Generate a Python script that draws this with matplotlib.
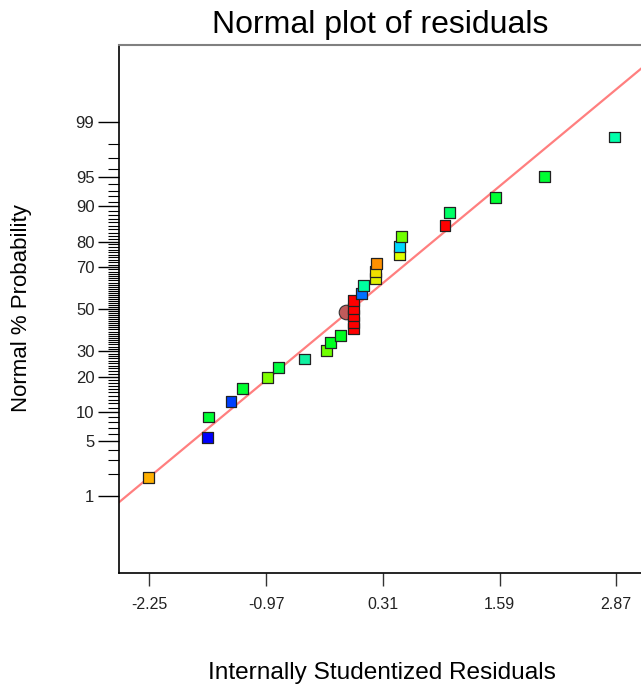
import matplotlib
matplotlib.use("Agg")
import matplotlib.pyplot as plt
from statistics import NormalDist

plt.rcParams["font.family"] = ["Liberation Sans", "DejaVu Sans"]

# studentized residuals (x) and normal % probability (y) of each run
resid = [-2.262, -1.613, -1.606, -1.354, -1.224, -0.950, -0.834, -0.546,
         -0.308, -0.268, -0.152, -0.009, -0.009, -0.009, -0.009, -0.009,
         0.073, 0.099, 0.229, 0.229, 0.237, 0.496, 0.496, 0.519,
         0.992, 1.037, 1.545, 2.079, 2.853]
prob_pct = [1.81, 5.44, 8.95, 12.46, 16.17, 19.66, 23.19, 26.73,
            30.19, 33.72, 37.22, 40.28, 43.4, 46.96, 50.5, 54.4,
            57.9, 61.6, 64.8, 68.2, 71.6, 75.0, 78.4, 81.8,
            85.1, 88.5, 91.8, 95.1, 98.4]
colors = ["#FFB000", "#0000FF", "#00FF33", "#0040FF", "#00FF30", "#80FF00", "#00FF40", "#10F0A0",
          "#70FF00", "#00FF20", "#00FF20", "#FF0000", "#FF0000", "#FF0000", "#FF0000", "#FF0000",
          "#0070FF", "#00FFA0", "#E0F000", "#F0E000", "#FF9000", "#DDFF00", "#00D8FF", "#70FF00",
          "#FF0000", "#00FF66", "#00FF33", "#00FF33", "#00FFAA"]

# highlighted run (round marker)
sel_resid = -0.098
sel_pct = 48.8

# reference line, in z units: z = slope * x + intercept
fit_slope = 0.9437
fit_intercept = 0.031

xticks = [-2.25, -0.97, 0.31, 1.59, 2.87]
yticks_pct = [1, 5, 10, 20, 30, 50, 70, 80, 90, 95, 99]

nd = NormalDist()
z = lambda p: nd.inv_cdf(p / 100.0)

fig = plt.figure(figsize=(6.41, 6.85), dpi=100)
ax = fig.add_axes([0.1864, 0.1631, 0.8136, 0.7712])

xlo, xhi = -2.577, 3.141
ax.plot([xlo, xhi], [fit_slope * xlo + fit_intercept, fit_slope * xhi + fit_intercept],
        color="#FF7F7F", lw=1.6, zorder=1)
ax.scatter([sel_resid], [z(sel_pct)], s=110, marker="o", c="#C05A5A",
           edgecolors="#333333", linewidths=0.8, zorder=2)
ax.scatter(resid, [z(p) for p in prob_pct], s=62, marker="s", c=colors,
           edgecolors="#222222", linewidths=0.9, zorder=3)

ax.set_xlim(xlo, xhi)
ax.set_ylim(z(0.05), z(99.95))
ax.set_xticks(xticks)
ax.set_xticklabels([f"{t:.2f}" for t in xticks])
ax.set_yticks([z(p) for p in yticks_pct])
ax.set_yticklabels([str(p) for p in yticks_pct])
ax.set_yticks([z(p) for p in range(1, 100) if p not in yticks_pct], minor=True)
ax.tick_params(axis="x", length=9, width=1, pad=8, labelsize=11.5, color="#333333",
               labelcolor="#222222")
ax.tick_params(axis="y", which="major", length=15, width=1, pad=3, labelsize=12,
               labelcolor="#222222")
ax.tick_params(axis="y", which="minor", length=8, width=0.8)

ax.spines["right"].set_visible(False)
ax.spines["top"].set_color("#808080")
ax.spines["top"].set_linewidth(1.5)
ax.spines["left"].set_linewidth(1.2)
ax.spines["bottom"].set_linewidth(1.2)

fig.text(0.5936, 0.963, "Normal plot of residuals", ha="center", va="center", fontsize=23)
fig.text(0.596, 0.0175, "Internally Studentized Residuals", ha="center", va="center", fontsize=17.6)
fig.text(0.0343, 0.551, "Normal % Probability", ha="center", va="center", rotation=90, fontsize=16)

fig.savefig("out.png", dpi=100)
